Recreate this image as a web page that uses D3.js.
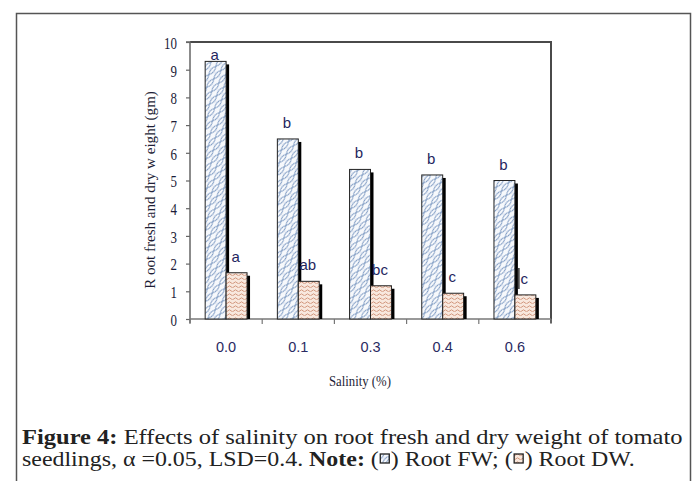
<!DOCTYPE html>
<html>
<head>
<meta charset="utf-8">
<script src="https://cdn.jsdelivr.net/npm/d3@7"></script>
<style>
  html, body { margin: 0; padding: 0; background: #fff; }
  svg { display: block; }
</style>
</head>
<body>
<svg id="chart" width="694" height="481"></svg>
<script>
const categories = ['0.0', '0.1', '0.3', '0.4', '0.6'];
const rootFW = [9.3, 6.5, 5.4, 5.2, 5.0];
const rootDW = [1.67, 1.36, 1.2, 0.93, 0.87];
const fwLetters = ['a', 'b', 'b', 'b', 'b'];
const dwLetters = ['a', 'ab', 'bc', 'c', 'c'];
const yTicks = [0, 1, 2, 3, 4, 5, 6, 7, 8, 9, 10];
const seriesNames = ['Root FW', 'Root DW'];

const svg = d3.select('#chart');
const plot = { left: 190, right: 551, top: 42, bottom: 319 };

// patterns
const defs = svg.append('defs');
const pf = defs.append('pattern').attr('id', 'patFW')
  .attr('patternUnits', 'userSpaceOnUse').attr('width', 6.5).attr('height', 11)
  .attr('patternTransform', 'rotate(40)');
pf.append('rect').attr('width', 6.5).attr('height', 11).attr('fill', '#f7f9fc');
pf.append('path').attr('d', 'M0,0 Q3.6,5.5 0,11 M6.5,0 Q2.9,5.5 6.5,11')
  .attr('fill', 'none').attr('stroke', '#5b7fb2').attr('stroke-width', 0.8);

const pd = defs.append('pattern').attr('id', 'patDW')
  .attr('patternUnits', 'userSpaceOnUse').attr('width', 6).attr('height', 4);
pd.append('rect').attr('width', 6).attr('height', 4).attr('fill', '#f8e8de');
pd.append('path').attr('d', 'M0,2.8 Q1.5,0.8 3,2.8 T6,2.8')
  .attr('fill', 'none').attr('stroke', '#c98467').attr('stroke-width', 0.8);

// outer frame
svg.append('rect').attr('x', 16.5).attr('y', 13.5).attr('width', 674).attr('height', 520)
  .attr('fill', 'none').attr('stroke', '#555').attr('stroke-width', 1.5);

// scales
const x = d3.scaleBand().domain(categories).range([plot.left, plot.right]).padding(0);
const x1 = d3.scaleBand().domain(seriesNames)
  .range([x.bandwidth() * 0.21, x.bandwidth() * 0.79]).padding(0);
const y = d3.scaleLinear().domain([0, 10]).range([plot.bottom, plot.top]);

// plot frame (top and right)
svg.append('path')
  .attr('d', `M${plot.left},${plot.top}H${plot.right}V${plot.bottom + 4}`)
  .attr('fill', 'none').attr('stroke', '#4a4a4a').attr('stroke-width', 2);

// y axis
const yAxis = svg.append('g').attr('transform', `translate(${plot.left},0)`)
  .call(d3.axisLeft(y).tickValues(yTicks).tickSize(4).tickFormat(d3.format('d')));
yAxis.select('.domain').attr('stroke', '#666').attr('stroke-width', 1.5)
  .attr('d', `M-4,${plot.top}H0V${plot.bottom + 4}`);
yAxis.selectAll('.tick line').attr('stroke', '#666').attr('stroke-width', 1.2);
yAxis.selectAll('.tick text')
  .attr('x', null).attr('dy', '0.36em')
  .attr('transform', 'translate(-13,0) scale(0.74,1)')
  .attr('font-family', 'Liberation Serif').attr('font-size', 17.5)
  .attr('fill', '#1c1c38');

// x axis
const xAxisG = svg.append('g').attr('transform', `translate(0,${plot.bottom})`);
xAxisG.append('line').attr('x1', plot.left).attr('x2', plot.right)
  .attr('stroke', '#777').attr('stroke-width', 1.5);
xAxisG.selectAll('line.xt').data(categories.concat(['end'])).join('line')
  .attr('class', 'xt')
  .attr('x1', (d, i) => i < categories.length ? x(d) : plot.right)
  .attr('x2', (d, i) => i < categories.length ? x(d) : plot.right)
  .attr('y1', 0).attr('y2', 5).attr('stroke', '#777').attr('stroke-width', 1.2);
xAxisG.selectAll('text').data(categories).join('text')
  .attr('x', d => x(d) + x.bandwidth() / 2).attr('y', 33)
  .attr('text-anchor', 'middle')
  .attr('font-family', 'Liberation Sans').attr('font-size', 14.5)
  .attr('fill', '#2a2a62').text(d => d);

// bars
const series = [
  { name: 'Root FW', values: rootFW, letters: fwLetters, fill: 'url(#patFW)' },
  { name: 'Root DW', values: rootDW, letters: dwLetters, fill: 'url(#patDW)' }
];
const bw = x1.bandwidth();
series.forEach(s => {
  const g = svg.append('g');
  categories.forEach((c, i) => {
    const bx = x(c) + x1(s.name);
    const by = y(s.values[i]);
    const bh = plot.bottom - by;
    g.append('rect').attr('x', bx + 3).attr('y', by + 3)
      .attr('width', bw).attr('height', Math.max(0, bh - 3)).attr('fill', '#000');
    g.append('rect').attr('x', bx).attr('y', by)
      .attr('width', bw).attr('height', bh)
      .attr('fill', s.fill).attr('stroke', '#222').attr('stroke-width', 1);
  });
});

// significance letters
series.forEach(s => {
  categories.forEach((c, i) => {
    const cx = x(c) + x1(s.name) + bw / 2;
    const ly = Math.max(y(s.values[i]) - 11, plot.top + 18);
    svg.append('text').attr('x', cx - 1).attr('y', ly)
      .attr('text-anchor', 'middle')
      .attr('font-family', 'Liberation Sans').attr('font-size', 15)
      .attr('fill', '#1f2660').text(s.letters[i]);
  });
});
// stray vertical mark next to last DW letter
{
  const c = categories[categories.length - 1];
  const lx = x(c) + x1('Root DW') + 4;
  const ly = y(rootDW[rootDW.length - 1]) - 11;
  svg.append('line').attr('x1', lx).attr('x2', lx).attr('y1', ly - 16).attr('y2', ly + 5)
    .attr('stroke', '#111').attr('stroke-width', 1.3);
}

// axis titles
function fitText(sel, target) {
  const w = sel.node().getComputedTextLength();
  return target / w;
}
const yt = svg.append('text')
  .attr('font-family', 'Liberation Serif').attr('font-size', 15)
  .attr('fill', '#1e1e36').attr('text-anchor', 'middle')
  .text('R oot fresh and dry w eight (gm)');
const ys = fitText(yt, 198);
yt.attr('transform', `translate(155,190) rotate(-90) scale(${ys},1)`);

const xt = svg.append('text')
  .attr('font-family', 'Liberation Serif').attr('font-size', 15)
  .attr('fill', '#1e1e36').attr('text-anchor', 'middle')
  .text('Salinity (%)');
const xs = fitText(xt, 62);
xt.attr('transform', `translate(360,386) scale(${xs},1)`);

// caption
const cap1 = svg.append('text')
  .attr('font-family', 'Liberation Serif').attr('font-size', 20).attr('fill', '#222');
cap1.append('tspan').attr('font-weight', 'bold').text('Figure 4:');
cap1.append('tspan').text(' Effects of salinity on root fresh and dry weight of tomato');
const s1 = fitText(cap1, 661);
cap1.attr('transform', `translate(22,444) scale(${s1},1)`);

const cap2 = svg.append('text')
  .attr('font-family', 'Liberation Serif').attr('font-size', 20).attr('fill', '#222');
cap2.append('tspan').text('seedlings, \u03b1 =0.05, LSD=0.4. ');
cap2.append('tspan').attr('font-weight', 'bold').text('Note:');
cap2.append('tspan').text(' (\u2002) Root FW; (\u2002) Root DW.');
const s2 = fitText(cap2, 613);
cap2.attr('transform', `translate(22,466) scale(${s2},1)`);

// legend swatches inside the caption
const full = cap2.text();
const idxs = [];
for (let i = 0; i < full.length; i++) if (full[i] === '\u2002') idxs.push(i);
const pats = ['url(#patFW)', 'url(#patDW)'];
idxs.forEach((ci, k) => {
  const p = cap2.node().getStartPositionOfChar(ci);
  const cw = cap2.node().getExtentOfChar(ci).width;
  const sx = 22 + (p.x + cw / 2) * s2;
  svg.append('rect').attr('x', sx - 4.5).attr('y', 466 - 12)
    .attr('width', 9).attr('height', 9)
    .attr('fill', pats[k]).attr('stroke', '#222').attr('stroke-width', 1.3);
});
</script>
</body>
</html>
